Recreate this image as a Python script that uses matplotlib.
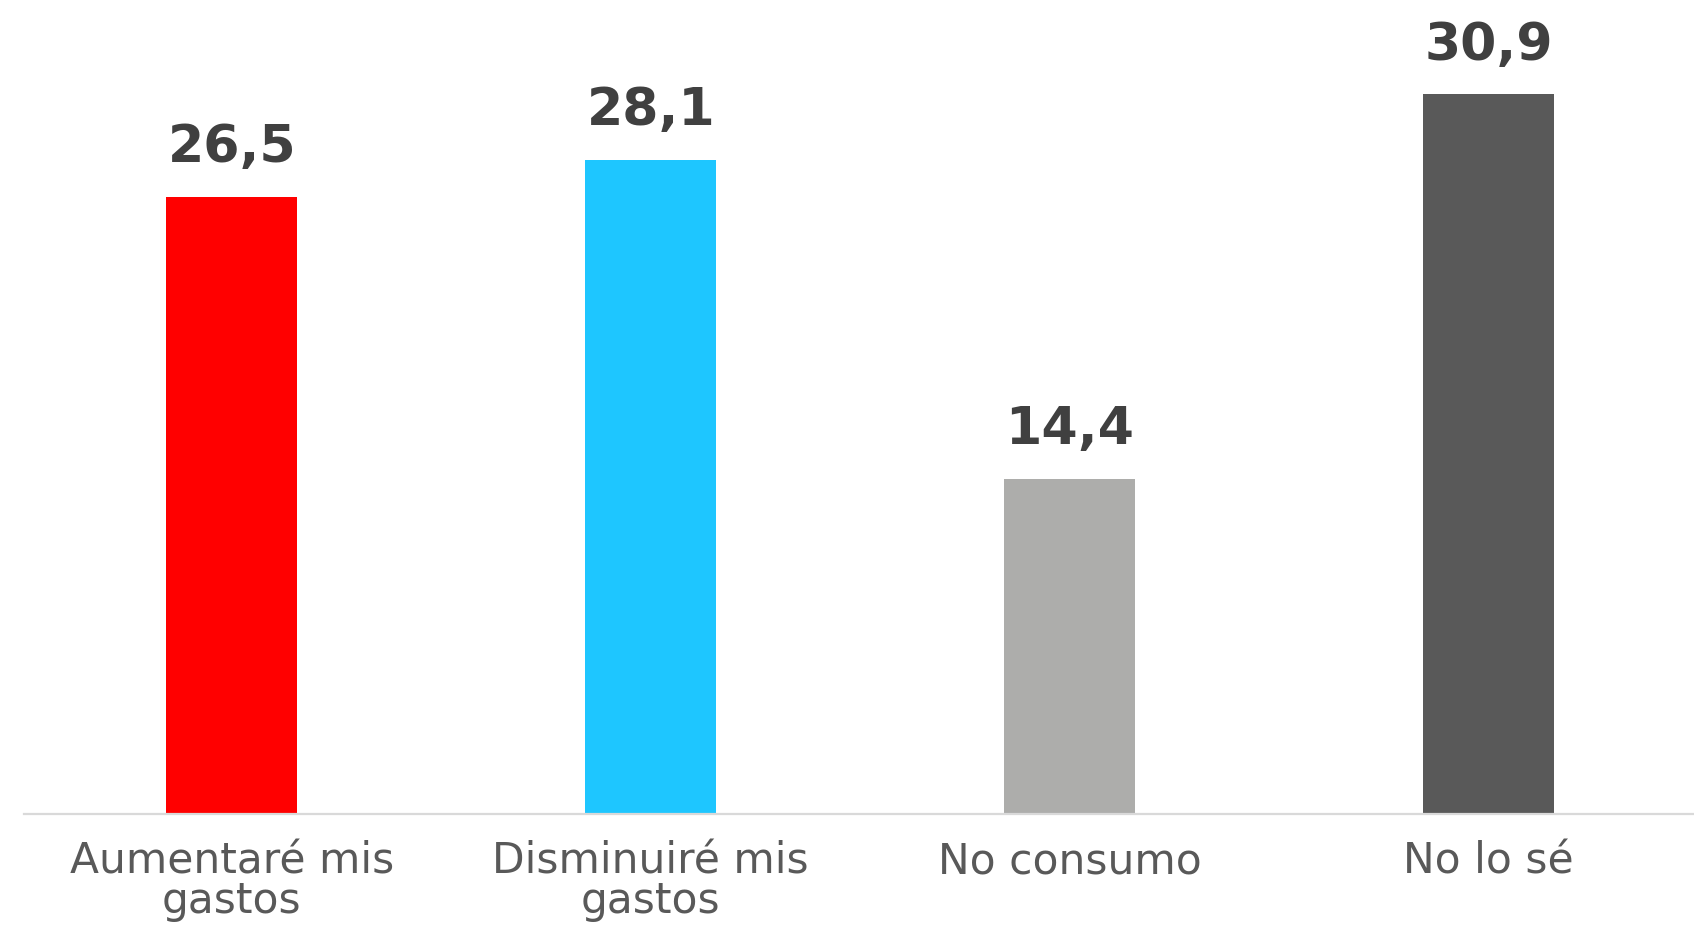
import matplotlib
matplotlib.use("Agg")
import matplotlib.pyplot as plt

# ============== DATA ==============
categories = ["Aumentaré mis\ngastos", "Disminuiré mis\ngastos", "No consumo", "No lo sé"]
values = [26.5, 28.1, 14.4, 30.9]
value_labels = ["26,5", "28,1", "14,4", "30,9"]
bar_colors = ["#FF0000", "#1EC6FF", "#ADADAB", "#595959"]

# ============== FIGURE ==============
plt.rcParams["font.family"] = ["DejaVu Sans"]
fig = plt.figure(figsize=(16.94, 9.25), dpi=100)
ax = fig.add_axes([24 / 1694, 111 / 925, 1 - 24 / 1694, 814 / 925])

x = range(len(categories))
ax.bar(x, values, width=0.313, color=bar_colors, zorder=2)

# value labels above each bar
for i, v in enumerate(values):
    ax.annotate(value_labels[i], (i, v), xytext=(0, 25), textcoords="offset points",
                ha="center", va="baseline", fontsize=37.5, fontweight="bold",
                color="#404040")

ax.set_xlim(-0.496, 3.49)
ax.set_ylim(0, 34.95)

ax.set_xticks(list(x))
ax.set_xticklabels(categories, fontsize=30.5, color="#595959", linespacing=0.92)
ax.tick_params(axis="x", length=0, pad=19)
ax.set_yticks([])

for side in ["top", "right", "left"]:
    ax.spines[side].set_visible(False)
ax.spines["bottom"].set_color("#D9D9D9")
ax.spines["bottom"].set_linewidth(1.6)

fig.savefig("out.png", dpi=100)
